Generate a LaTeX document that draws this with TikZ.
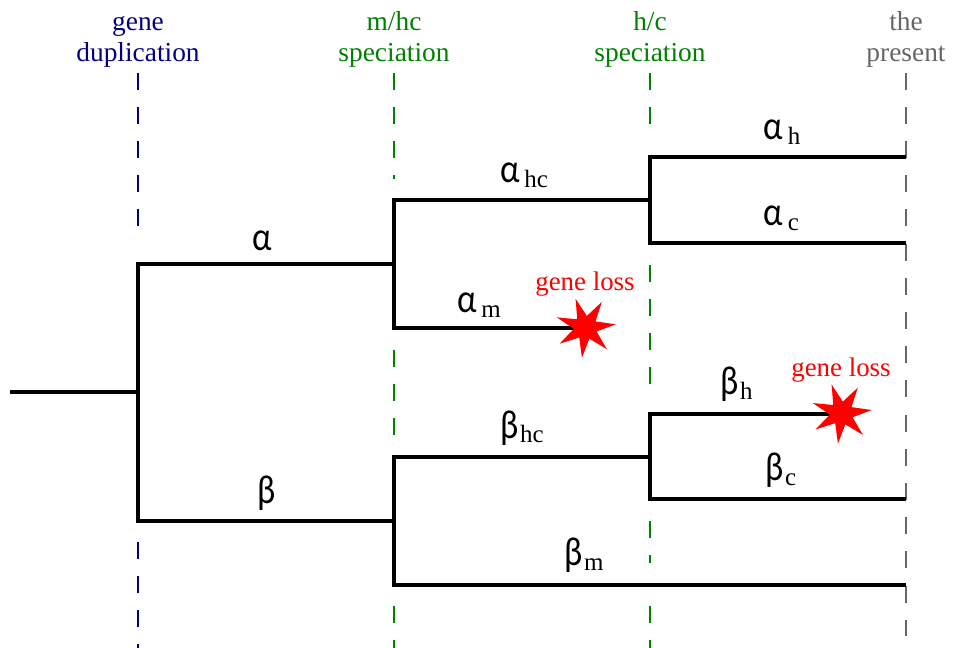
\documentclass[tikz,border=0pt]{standalone}
\usepackage{fontspec}
\setmainfont{Liberation Serif}
\newfontfamily\greekfont[FakeStretch=0.85]{Carlito}
\usetikzlibrary{shapes.geometric}
\definecolor{dupc}{RGB}{0,0,128}
\definecolor{specc}{RGB}{0,128,0}
\definecolor{nowc}{RGB}{102,102,102}
\newcommand{\brlab}[3]{{\greekfont\fontsize{23}{23}\selectfont #1}\kern#2\raisebox{-0.1cm}{#3}}

\begin{document}
\begin{tikzpicture}[
    x=0.02cm, y=-0.02cm,
    branch/.style={line width=0.08cm, black},
    guide/.style={line width=0.04cm, draw=#1, dash pattern=on 0.34cm off 0.344cm},
    head/.style={font=\fontsize{15.6}{17.6}\selectfont, align=center, text=#1, inner sep=0pt, anchor=base},
    brname/.style={font=\fontsize{14.2}{14.2}\selectfont, anchor=base west, inner sep=0pt},
    loss/.style={font=\fontsize{15.3}{15.3}\selectfont, text=red, anchor=base west, inner sep=0pt},
    burst/.style={star, star points=7, star point ratio=2.6, minimum size=1.22cm, inner sep=0pt,
                  fill=red, shape border rotate=19}]

    \useasboundingbox (0,0) rectangle (953,648);

    % time labels
    \node[head=dupc] (lbldup) at (138,61.7) {gene\\duplication};
    \node[head=specc] (lblmhc) at (394,61.7) {m/hc\\speciation};
    \node[head=specc] (lblhc) at (650,61.7) {h/c\\speciation};
    \node[head=nowc] (lblnow) at (906,61.7) {the\\present};

    % dashed time lines
    \foreach \gname/\gx/\gfrom/\gto/\gcol in {
        dupa/137.7/72.7/226/dupc, dupb/137.7/541.7/648/dupc,
        mhca/393.8/72.7/179/specc, mhcb/393.8/350/436/specc, mhcc/393.8/606/648/specc,
        hca/650/72.7/124/specc, hcb/650/264.7/385/specc, hcc/650/520.7/563/specc, hcd/650/606/648/specc,
        now/906/72.7/636/nowc} {
        \coordinate (\gname top) at (\gx,\gfrom);
        \coordinate (\gname bot) at (\gx,\gto);
        \draw[guide=\gcol] (\gname top) -- (\gname bot);
    }

    % branch points and tips
    \coordinate (root) at (10,392.3);
    \coordinate (ndup) at (137.7,392.3);
    \coordinate (nalpha) at (393.8,264.5);
    \coordinate (nbeta) at (393.8,520.5);
    \coordinate (nahc) at (650,200.5);
    \coordinate (nbhc) at (650,456.8);
    \coordinate (tah) at (906,157.5);
    \coordinate (tac) at (906,243);
    \coordinate (tam) at (585,328.3);
    \coordinate (tbh) at (841,414);
    \coordinate (tbc) at (906,499.2);
    \coordinate (tbm) at (906,584.7);

    % tree
    \draw[branch] (root) -- (ndup);
    \draw[branch] (nalpha) -| (ndup) |- (nbeta);
    \draw[branch] (nahc) -| (nalpha) |- (tam);
    \draw[branch] (nbhc) -| (nbeta) |- (tbm);
    \draw[branch] (tah) -| (nahc) |- (tac);
    \draw[branch] (tbh) -| (nbhc) |- (tbc);

    % losses
    \node[burst] (staram) at (585.5,327.6) {};
    \node[burst] (starbh) at (841.5,413.3) {};
    \node[loss] (lossam) at (535,291) {gene loss};
    \node[loss] (lossbh) at (791,377) {gene loss};

    % branch names
    \node[brname] (lalpha) at (252,251) {\brlab{α}{0pt}{}};
    \node[brname] (lbeta) at (257,503) {\brlab{β}{0pt}{}};
    \node[brname] (lahc) at (500,183) {\brlab{α}{0.09cm}{hc}};
    \node[brname] (lam) at (457,313) {\brlab{α}{0.09cm}{m}};
    \node[brname] (lah) at (763,140) {\brlab{α}{0.1cm}{h}};
    \node[brname] (lac) at (763,226) {\brlab{α}{0.1cm}{c}};
    \node[brname] (lbh) at (720,394.5) {\brlab{β}{0.03cm}{h}};
    \node[brname] (lbhc) at (500,438) {\brlab{β}{0.03cm}{hc}};
    \node[brname] (lbc) at (765,480) {\brlab{β}{0.03cm}{c}};
    \node[brname] (lbm) at (564,565) {\brlab{β}{0.03cm}{m}};
\end{tikzpicture}
\end{document}
